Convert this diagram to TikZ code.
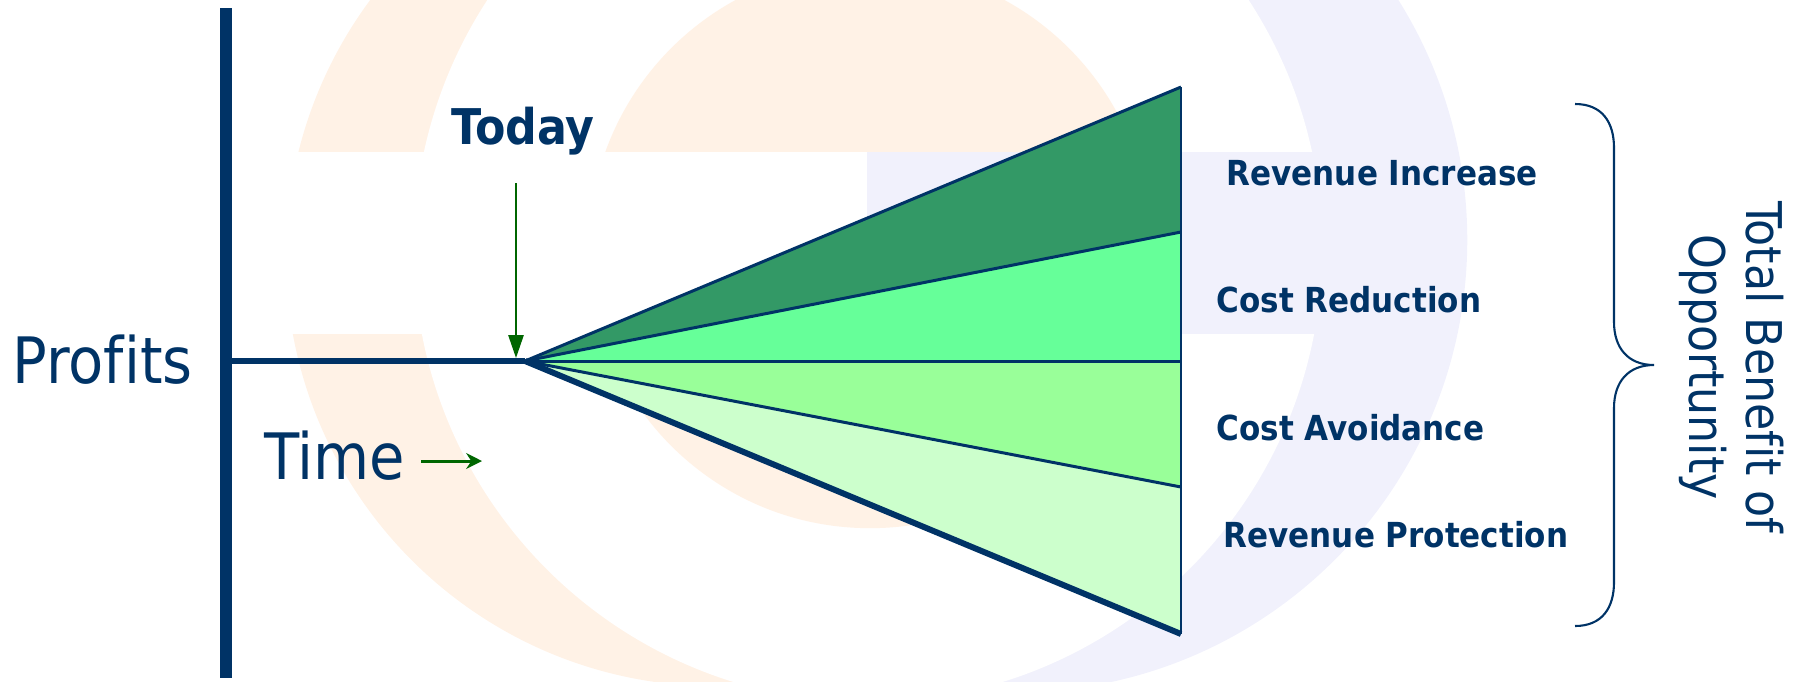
\documentclass[tikz,border=0pt]{standalone}
\usepackage{fontspec}
\setmainfont[Ligatures=NoCommon]{DejaVu Sans Condensed}
\usetikzlibrary{arrows.meta}

\definecolor{navy}{RGB}{0,51,102}
\definecolor{arrowgreen}{RGB}{0,102,0}
\definecolor{peach}{RGB}{255,242,230}
\definecolor{lavender}{RGB}{241,241,252}
\definecolor{increasegreen}{RGB}{51,153,102}
\definecolor{reductiongreen}{RGB}{102,255,153}
\definecolor{avoidgreen}{RGB}{153,255,153}
\definecolor{protectgreen}{RGB}{204,255,204}

\tikzset{
  axistext/.style={inner sep=0pt,anchor=base west,text=navy,font=\fontsize{18.2}{22}\selectfont},
  benefit/.style={inner sep=0pt,anchor=base west,text=navy,font=\bfseries\fontsize{9.8}{12}\selectfont}
}

\begin{document}
\begin{tikzpicture}[x=0.01cm,y=-0.01cm]
  \useasboundingbox (0,0) rectangle (1797,681);

  \begin{scope}
    \clip (0,0) rectangle (1797,681);
    \fill[peach] (716,256) circle [radius=4.3cm];
    \fill[lavender] (1015,240) circle [radius=4.52cm];
    \fill[white] (868,248) circle [radius=4.54cm];
    \fill[peach] (870,247) circle [radius=2.81cm];
    \fill[white] (0,152) rectangle (867,334);
    \fill[lavender] (867,152) rectangle (1345,334);
  \end{scope}

  \coordinate (bartop) at (226,8);
  \coordinate (barbottom) at (226,678);
  \coordinate (axisstart) at (231,361);
  \coordinate (apex) at (525,361);
  \coordinate (top) at (1181,87);
  \coordinate (b1) at (1181,232);
  \coordinate (b2) at (1181,361);
  \coordinate (b3) at (1181,487);
  \coordinate (bottom) at (1181,634);

  \fill[increasegreen] (apex) -- (top) -- (b1) -- cycle;
  \fill[reductiongreen] (apex) -- (b1) -- (b2) -- cycle;
  \fill[avoidgreen] (apex) -- (b2) -- (b3) -- cycle;
  \fill[protectgreen] (apex) -- (b3) -- (bottom) -- cycle;

  \draw[navy,line width=0.6pt] (top) -- (bottom);
  \draw[navy,line width=0.85pt] (apex) -- (top);
  \draw[navy,line width=0.85pt] (apex) -- (b1);
  \draw[navy,line width=0.85pt] (apex) -- (b2);
  \draw[navy,line width=0.85pt] (apex) -- (b3);
  \draw[navy,line width=1.7pt] (apex) -- (bottom);

  \draw[navy,line width=3.3pt] (bartop) -- (barbottom);
  \draw[navy,line width=1.6pt] (axisstart) -- (apex);

  \node[axistext] (profits) at (12,383) {Profits};
  \node[axistext] (time) at (264,479) {Time};
  \node[inner sep=0pt,anchor=base west,text=navy,font=\bfseries\fontsize{14}{17}\selectfont] (today) at (451,144) {Today};

  \coordinate (todaystart) at (516,183);
  \coordinate (todayend) at (516,358);
  \draw[arrowgreen,line width=0.6pt,-{Triangle[length=6.5pt,width=4.3pt]}] (todaystart) -- (todayend);

  \coordinate (timestart) at (421,461);
  \coordinate (timeend) at (482,461);
  \draw[arrowgreen,line width=0.85pt,-{Stealth[length=4.5pt,width=4.5pt]}] (timestart) -- (timeend);

  \node[benefit] (increase) at (1226,185) {Revenue Increase};
  \node[benefit] (reduction) at (1216,312) {Cost Reduction};
  \node[benefit] (avoidance) at (1216,440) {Cost Avoidance};
  \node[benefit] (protection) at (1223,547) {Revenue Protection};

  \coordinate (bracetop) at (1575,104);
  \coordinate (bracetip) at (1654,365);
  \coordinate (bracebottom) at (1575,626);
  \draw[navy,line width=0.6pt] (bracetop) .. controls (1602,104) and (1614,122) .. (1614,148)
    -- (1614,322) .. controls (1614,348) and (1628,365) .. (bracetip)
    .. controls (1628,365) and (1614,382) .. (1614,408)
    -- (1614,582) .. controls (1614,608) and (1602,626) .. (bracebottom);

  \node[rotate=-90,inner sep=0pt,align=center,text=navy,font=\fontsize{14}{16.2}\selectfont] (total) at (1732,367) {Total Benefit of\\Opportunity};
\end{tikzpicture}
\end{document}
